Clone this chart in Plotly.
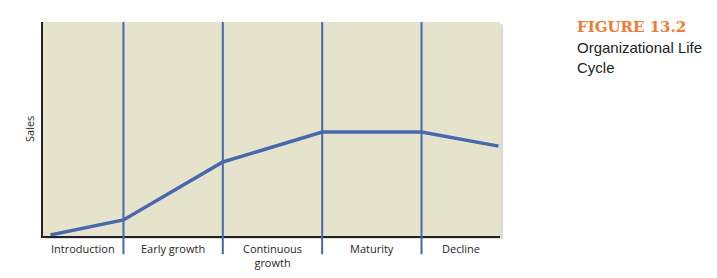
import plotly.graph_objects as go

# Data
stages = ["Introduction", "Early growth", "Continuous<br>growth", "Maturity", "Decline"]
stage_centers = [0.595, 1.5, 2.5, 3.5, 4.395]
stage_boundaries = [1, 2, 3, 4]
curve_x = [0.265, 1, 2, 3, 4, 4.775]
sales = [0.5, 7.5, 34.6, 48.6, 48.6, 42.0]

blue = "#4868ae"
fig = go.Figure()

fig.add_trace(go.Scatter(x=curve_x, y=sales, mode="lines",
                         line=dict(color=blue, width=3.5), hoverinfo="skip"))

# panel shadow
fig.add_shape(type="rect", xref="paper", yref="paper", x0=0.008, x1=1.007, y0=-0.014, y1=0.99,
              fillcolor="#dcdcd8", line=dict(width=0), layer="below")
fig.add_shape(type="rect", xref="paper", yref="paper", x0=0, x1=1, y0=0, y1=1,
              fillcolor="#e6e3cd", line=dict(width=0), layer="below")

for b in stage_boundaries:
    fig.add_shape(type="line", xref="x", yref="paper", x0=b, x1=b, y0=-0.085, y1=1,
                  line=dict(color=blue, width=2))

for c, s in zip(stage_centers, stages):
    fig.add_annotation(x=c, y=0, xref="x", yref="paper", yshift=-3, text=s, showarrow=False,
                       yanchor="top", font=dict(family="Open Sans", size=11, color="#262626"),
                       align="center")

fig.add_annotation(xref="paper", yref="paper", x=0, y=0.5, xshift=-14, text="Sales", textangle=-90,
                   showarrow=False, xanchor="center", font=dict(family="Open Sans", size=11, color="#262626"))

fig.add_annotation(xref="paper", yref="paper", x=1.164, y=1.03, xanchor="left", yanchor="top",
                   text="FIGURE 13.2", showarrow=False,
                   font=dict(family="DejaVu Serif", size=15, color="#f07a30", weight="bold"))
fig.add_annotation(xref="paper", yref="paper", x=1.164, y=0.93, xanchor="left", yanchor="top",
                   text="Organizational Life<br>Cycle", showarrow=False, align="left",
                   font=dict(family="Liberation Sans", size=15, color="#222"))

fig.update_layout(
    width=717, height=278,
    margin=dict(l=43, r=217, t=22, b=42),
    paper_bgcolor="white", plot_bgcolor="rgba(0,0,0,0)",
    showlegend=False,
    xaxis=dict(range=[0.19, 4.79], showgrid=False, zeroline=False, showticklabels=False,
               ticks="", showline=True, linecolor="#222", linewidth=1.5, fixedrange=True),
    yaxis=dict(range=[0, 100], showgrid=False, zeroline=False, showticklabels=False,
               ticks="", showline=True, linecolor="#222", linewidth=1.5, fixedrange=True),
)

fig.write_html("out.html")
